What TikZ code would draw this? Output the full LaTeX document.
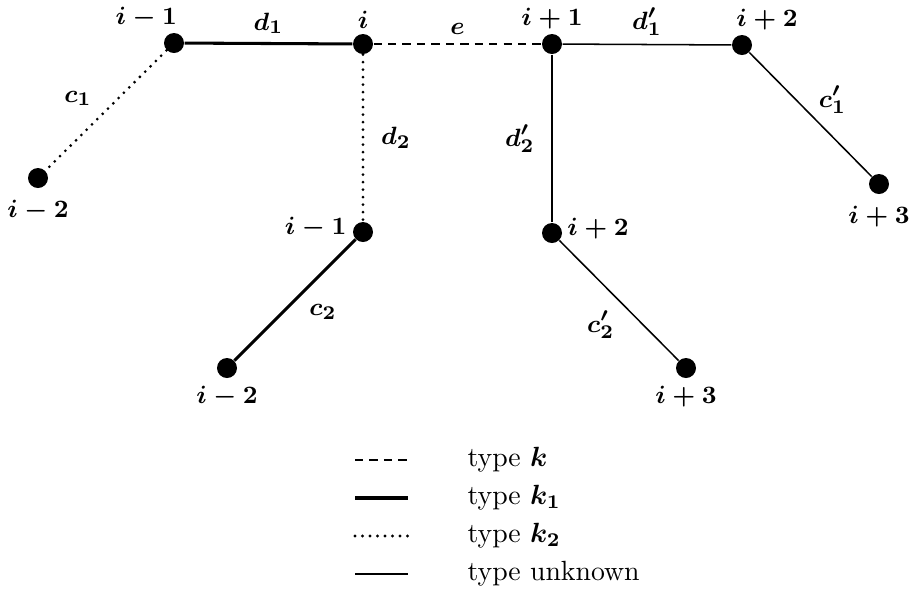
\documentclass[tikz,border=0pt]{standalone}
\usetikzlibrary{positioning}
\tikzset{
  vtx/.style={circle,fill=black,inner sep=0pt,minimum size=7.2pt},
  lbl/.style={inner sep=1pt,font=\boldmath\fontsize{9.5}{11}\selectfont},
  edge-k/.style={line width=0.55pt,dash pattern=on 3pt off 2.2pt},
  edge-k1/.style={line width=1.1pt},
  edge-k2/.style={line width=1.1pt,line cap=round,dash pattern=on 0pt off 2.7pt},
  edge-u/.style={line width=0.55pt},
}
\begin{document}
\begin{tikzpicture}[x=0.36pt,y=-0.36pt]
  \useasboundingbox (0,0) rectangle (910,591);
  % top row
  \node[vtx,label={[lbl,xshift=-10pt,label distance=0.5pt]above:$i-1$}] (t-im1) at (174,43) {};
  \node[vtx,label={[lbl,label distance=0.5pt]above:$i$}] (t-i) at (363,44) {};
  \node[vtx,label={[lbl,label distance=0.5pt]above:$i+1$}] (t-ip1) at (552,44) {};
  \node[vtx,label={[lbl,xshift=9pt,label distance=0.5pt]above:$i+2$}] (t-ip2) at (742,45) {};
  % lower vertices
  \node[vtx,label={[lbl,label distance=3pt]below:$i-2$}] (l-im2) at (38,178) {};
  \node[vtx,label={[lbl,yshift=1.5pt,label distance=1pt]left:$i-1$}] (m-im1) at (363,232) {};
  \node[vtx,label={[lbl,label distance=1.5pt]below:$i-2$}] (b-im2) at (227,368) {};
  \node[vtx,label={[lbl,yshift=1.5pt,label distance=0.5pt]right:$i+2$}] (m-ip2) at (552,233) {};
  \node[vtx,label={[lbl,label distance=1.5pt]below:$i+3$}] (b-ip3) at (686,368) {};
  \node[vtx,label={[lbl,label distance=3pt]below:$i+3$}] (r-ip3) at (879,184) {};
  % edges
  \draw[edge-k1] (t-im1) -- node[lbl,above=2pt] (lab-d1) {$d_1$} (t-i);
  \draw[edge-k] (t-i) -- node[lbl,above=2pt] (lab-e) {$e$} (t-ip1);
  \draw[edge-u] (t-ip1) -- node[lbl,above=2pt] (lab-d1p) {$d'_1$} (t-ip2);
  \draw[edge-k2] (t-im1) -- node[lbl,pos=0.4,left=8pt] (lab-c1) {$c_1$} (l-im2);
  \draw[edge-k2] (t-i) -- node[lbl,right=5pt] (lab-d2) {$d_2$} (m-im1);
  \draw[edge-u] (t-ip1) -- node[lbl,left=5pt] (lab-d2p) {$d'_2$} (m-ip2);
  \draw[edge-u] (t-ip2) -- node[lbl,pos=0.38,right=7pt] (lab-c1p) {$c'_1$} (r-ip3);
  \draw[edge-k1] (m-im1) -- node[lbl,pos=0.6,right=8pt] (lab-c2) {$c_2$} (b-im2);
  \draw[edge-u] (m-ip2) -- node[lbl,pos=0.7,left=9pt] (lab-c2p) {$c'_2$} (b-ip3);
  % legend
  \foreach \sty/\txt [count=\n] in {edge-k/type {\boldmath$k$},
      edge-k1/type {\boldmath$k_1$}, edge-k2/type {\boldmath$k_2$},
      edge-u/type unknown} {
    \coordinate (leg-a\n) at (355,{460+38*(\n-1)});
    \coordinate (leg-b\n) at (408,{460+38*(\n-1)});
    \node[anchor=west,inner sep=0pt] (leg-t\n) at (467,{460+38*(\n-1)}) {\txt};
    \draw[\sty] (leg-a\n) -- (leg-b\n);
  }
\end{tikzpicture}
\end{document}
